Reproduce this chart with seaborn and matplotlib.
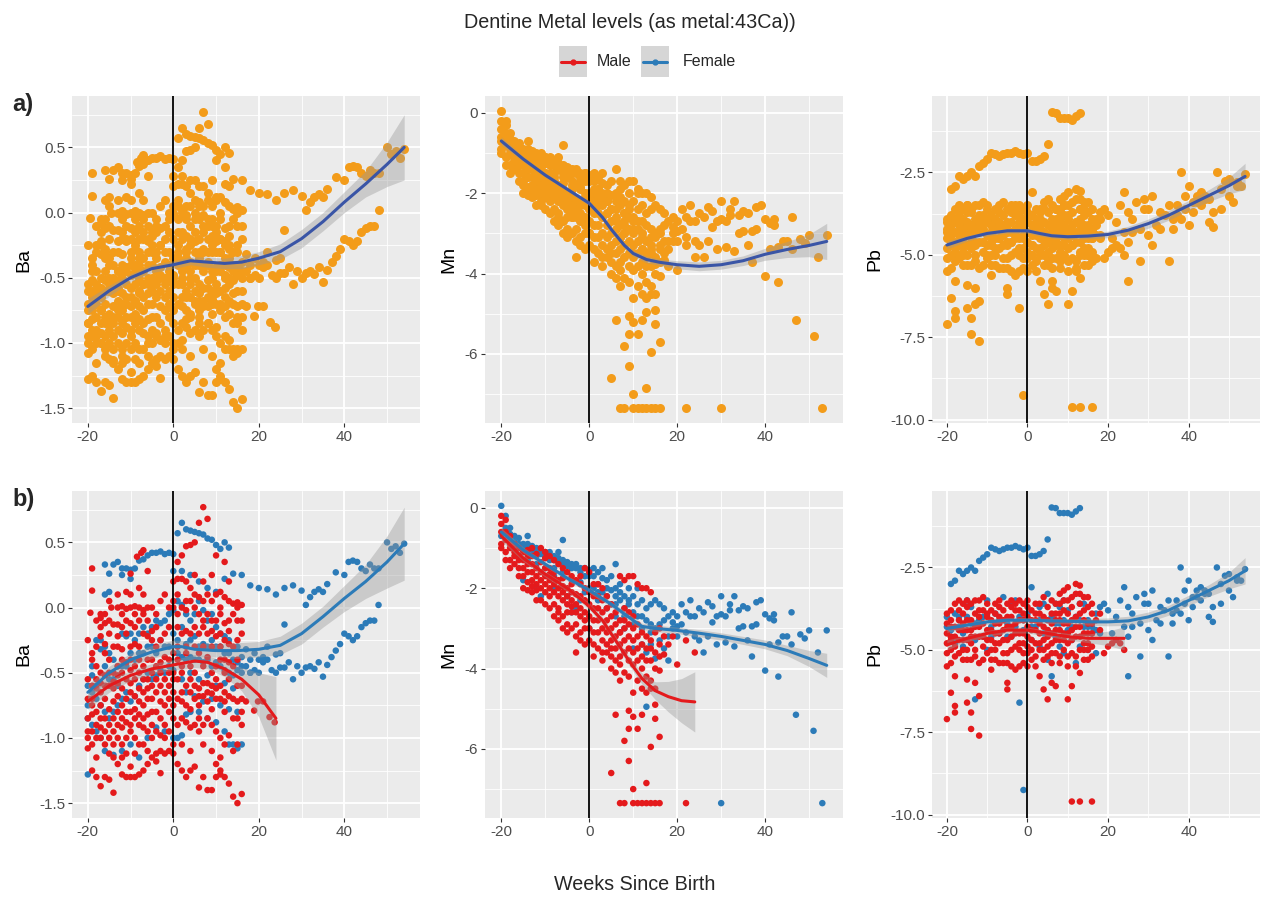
import numpy as np
import pandas as pd
import seaborn as sns
import matplotlib.pyplot as plt
from matplotlib.patches import Rectangle
from matplotlib.lines import Line2D

# ---- data (weeks since birth, log metal:43Ca) ----
ba_male = [
    (-19, 0.30), (-19, 0.13), (-8.5, 0.39), (-7.5, 0.42), (-7, 0.44), (-6, 0.28), (-10, 0.26), (-11, 0.12),
    (-19.4, -0.04), (-17, -0.05), (-14.5, 0.0), (-13, 0.0), (-12, 0.01), (-11, -0.01), (-10, 0.0), (-9, 0.01), (-8, 0.0), (-7, -0.02),
    (-17, -0.08), (-16, -0.12), (-15, -0.1), (-14, -0.13), (-13, -0.13), (-12, -0.15), (-11, -0.1), (-10, -0.12), (-9, -0.15),
    (-8, -0.1), (-7, -0.05), (-6, -0.1),
    (-14, -0.3), (-13, -0.3), (-12, -0.32), (-10, -0.3), (-9, -0.28), (-8, -0.3), (-7, -0.2), (-6, -0.22), (-5, -0.18), (-4, -0.15),
    (1, 0.35), (2, 0.4), (3, 0.47), (4, 0.48), (5, 0.5), (6, 0.65), (7, 0.77), (8, 0.68), (10, 0.4), (12, 0.35),
    (0, 0.2), (1, 0.22), (2, 0.22), (3, 0.2), (4, 0.15), (5, 0.1), (6, 0.08), (7, 0.05), (8, 0.1), (9, 0.05), (10, 0.1),
    (11, 0.12), (12, 0.08), (13, 0.05), (14, 0.03), (15, 0.04), (16, 0.02),
    (0, 0.0), (1, -0.05), (2, 0.0), (3, -0.02), (4, 0.05), (5, 0.0), (6, -0.05), (7, -0.1), (8, -0.05), (9, -0.1), (10, -0.1),
    (11, -0.05), (12, -0.12), (13, -0.1), (14, -0.05), (15, 0.0), (16, -0.2),
    (1, -0.15), (2, -0.2), (3, -0.18), (4, -0.2), (5, -0.15), (6, -0.2), (7, -0.15), (8, -0.2), (9, -0.18), (10, -0.22),
    (11, -0.2), (12, -0.25), (13, -0.18), (14, -0.3), (15, -0.25),
    (1, -0.55), (2, -0.5), (3, -0.6), (4, -0.55), (5, -0.6), (6, -0.62), (7, -0.58), (8, -0.65), (9, -0.6), (10, -0.62),
    (11, -0.6), (12, -0.65), (13, -0.55), (14, -0.7), (15, -0.72), (16, -0.7), (5, -0.7), (7, -0.68), (9, -0.66), (11, -0.7),
    (0, -0.75), (2, -0.72), (4, -0.78), (6, -0.75), (8, -0.72), (10, -0.55), (12, -0.5),
    (18.9, -0.79), (19.8, -0.72), (21, -0.72), (22.5, -0.84), (23.7, -0.88),
    (1, -0.9), (2, -0.85), (3, -0.88), (4, -0.92), (5, -0.9), (6, -0.95), (7, -0.9), (8, -0.85), (9, -0.9), (10, -0.95),
    (11, -1.0), (12, -1.05), (13, -0.98), (14, -1.1), (15, -1.05),
    (1, -1.2), (2, -1.25), (3, -1.3), (4, -1.25), (5, -1.22), (7, -1.3), (8, -1.4), (9, -1.4), (10, -1.3), (11, -1.28),
    (12, -1.3), (13, -1.35), (14, -1.45), (15, -1.5), (16, -1.43), (6, -1.38), (10, -1.2), (11, -1.25),
    (-20, -0.85), (-20, -1.08), (-19, -0.95), (-19, -0.82), (-18, -0.9), (-18, -1.0), (-17, -0.92), (-17, -0.85),
    (-16, -0.95), (-16, -1.05), (-15, -0.9), (-15, -1.0), (-14, -0.95), (-14, -0.85), (-13, -1.0), (-13, -0.9),
    (-12, -0.92), (-12, -1.05), (-11, -0.88), (-11, -1.0), (-10, -0.9), (-10, -0.95), (-9, -0.85), (-9, -1.0),
    (-8, -0.9), (-8, -1.05), (-7, -0.92), (-7, -0.85), (-6, -0.95), (-6, -1.1), (-5, -0.9), (-5, -1.0), (-4, -0.95),
    (-4, -1.12), (-3, -1.1), (-3, -0.98), (-2, -1.12), (-2, -0.9), (-1, -1.1), (-1, -0.95), (0, -1.05), (0, -1.12),
    (-19, -1.25), (-18, -1.3), (-17, -1.37), (-16, -1.3), (-15, -1.32), (-14, -1.42), (-13, -1.2), (-12, -1.28),
    (-11, -1.3), (-10, -1.3), (-9, -1.3), (-8, -1.28), (-7, -1.25), (-6, -1.2), (-5, -1.15), (-4, -1.18), (-3, -1.27),
    (-14, -1.15), (-12, -1.15), (-10, -1.22),
    (-20, -0.7), (-19, -0.6), (-18, -0.55), (-17, -0.65), (-16, -0.7), (-15, -0.6), (-14, -0.72), (-13, -0.68),
    (-12, -0.75), (-11, -0.7), (-10, -0.65), (-9, -0.68), (-8, -0.72), (-7, -0.65), (-6, -0.62), (-5, -0.7),
    (-4, -0.65), (-3, -0.6), (-2, -0.55), (-1, -0.6), (0, -0.65),
    (-19, -0.4), (-18, -0.45), (-17, -0.5), (-16, -0.35), (-15, -0.4), (-14, -0.5), (-13, -0.45), (-12, -0.5),
    (-11, -0.42), (-10, -0.48), (-9, -0.45), (-8, -0.5), (-7, -0.45), (-6, -0.4), (-5, -0.5), (-4, -0.45),
    (-3, -0.42), (-2, -0.38), (-1, -0.4), (0, -0.35),
    (-20, -0.25), (-19, -0.35), (-18, -0.3), (-17, -0.22), (-16, -0.28),
    (-20, -0.95), (-20, -0.55), (-19, -1.05), (-19, -0.75), (-18, -0.8), (-18, -1.15), (-17, -1.0), (-17, -0.75),
    (-16, -0.85), (-16, -0.6), (-15, -1.12), (-15, -0.78), (-14, -0.62), (-14, -1.05), (-13, -0.8), (-13, -0.58),
    (-12, -0.85), (-12, -0.62), (-11, -0.8), (-11, -1.12), (-10, -0.8), (-10, -0.58), (-9, -0.78), (-9, -1.12),
    (-8, -0.82), (-8, -0.62), (-7, -1.05), (-7, -0.75), (-6, -0.82), (-6, -0.55), (-5, -0.8), (-5, -0.6),
    (-4, -0.8), (-4, -0.55), (-3, -0.85), (-3, -0.72), (-2, -0.75), (-2, -1.0), (-1, -0.8), (-1, -0.5),
    (0, -0.85), (0, -0.5),
    (-16, -0.05), (-15, -0.2), (-13, -0.22), (-11, -0.2), (-9, -0.05), (-7, 0.1), (-5, 0.0), (-4, -0.05),
    (-3, -0.25), (-2, -0.2), (-1, -0.15), (0, 0.05),
    (1, -0.4), (2, -0.45), (3, -0.35), (4, -0.45), (5, -0.5), (6, -0.35), (7, -0.45), (8, -0.38), (9, -0.5),
    (10, -0.45), (11, -0.4), (12, -0.4), (13, -0.42), (14, -0.45), (15, -0.6), (16, -0.6),
    (1, -0.7), (3, -0.75), (6, -0.85), (9, -0.78), (12, -0.8), (14, -0.85), (16, -0.9), (2, -1.05), (4, -1.1),
    (7, -1.05), (9, -1.1), (11, -1.15),
    (-20, -1.0), (-19, -0.7), (-18, -0.62), (-17, -0.58), (-16, -0.52), (-15, -0.5), (-14, -0.57), (-13, -0.52),
    (-12, -0.4), (-11, -0.55), (-10, -0.4), (-9, -0.55), (-8, -0.4), (-7, -0.55), (-6, -0.7), (-5, -0.4),
    (-4, -0.3), (-3, -0.5), (-2, -0.65), (-1, -0.7), (0, -0.55),
    (-18, -0.1), (-17, -0.15), (-15, 0.05), (-13, 0.1), (-12, -0.05), (-10, 0.1), (-8, 0.15), (-6, 0.0),
    (-5, -0.25), (-3, 0.05), (-2, 0.1), (-1, 0.0),
    (1, 0.1), (3, 0.05), (5, 0.25), (7, 0.2), (9, 0.25), (11, 0.0), (13, 0.2), (15, -0.1), (16, -0.1),
    (1, -0.3), (3, -0.3), (5, -0.3), (7, -0.3), (9, -0.3), (11, -0.3), (13, -0.28), (15, -0.4),
    (2, -0.65), (4, -0.65), (6, -0.68), (8, -0.58), (10, -0.7), (12, -0.72), (13, -0.68), (15, -0.85),
    (16, -0.8), (17, -0.72),
]
ba_female = [
    (1, 0.57), (2, 0.65), (3, 0.6), (4, 0.59), (5, 0.58), (6, 0.57), (7, 0.56), (8, 0.53), (9, 0.52), (10, 0.48),
    (11, 0.45), (12, 0.5), (13, 0.46),
    (-16, 0.33), (-15, 0.26), (-14, 0.33), (-13, 0.35), (-12, 0.3), (-11, 0.3), (-10, 0.29), (-9, 0.3), (-8, 0.36),
    (-7, 0.37), (-6, 0.4), (-5, 0.42), (-4, 0.42), (-3, 0.43), (-2, 0.41), (-1, 0.42), (0, 0.41),
    (0, 0.28), (2, 0.28), (4, 0.25), (6, 0.2), (8, 0.15), (10, 0.12), (12, 0.22), (14, 0.26), (16, 0.25), (18, 0.17),
    (20, 0.15), (22, 0.14), (24, 0.1), (26, 0.15), (28, 0.17), (30, 0.13), (31, 0.02), (32, 0.08), (33, 0.12),
    (34, 0.14), (35, 0.12), (36, 0.18), (38, 0.27), (40, 0.25), (41, 0.35), (42, 0.36), (43, 0.35), (44, 0.3),
    (45, 0.28), (46, 0.33), (47, 0.3), (48, 0.3), (50, 0.5), (51, 0.45), (52, 0.47), (53, 0.42), (54, 0.49),
    (15, -0.42), (16, -0.45), (18, -0.5), (20, -0.4), (21, -0.42), (22, -0.4), (23, -0.48), (24, -0.5), (25, -0.46),
    (26, -0.46), (27, -0.42), (28, -0.55), (29, -0.45), (30, -0.5), (31, -0.46), (32, -0.45), (33, -0.47),
    (34, -0.42), (35, -0.53), (36, -0.44), (37, -0.38), (38, -0.33), (39, -0.28), (40, -0.2), (41, -0.22),
    (42, -0.25), (43, -0.22), (44, -0.15), (45, -0.12), (46, -0.1), (47, -0.1), (48, 0.02), (26, -0.13),
    (-20, -1.28), (-20, -0.6), (-19, -0.45), (-19, -0.65), (-18, -0.25), (-18, -0.7), (-17, -0.25), (-17, -0.75),
    (-16, -0.3), (-16, -0.8), (-15, -0.35), (-15, -0.85), (-14, -0.4), (-14, -0.8), (-13, -0.45), (-13, -0.75),
    (-12, -0.2), (-12, -0.7), (-11, -0.22), (-11, -0.65), (-10, -0.2), (-10, -0.72), (-9, -0.25), (-9, -0.68),
    (-8, -0.2), (-8, -0.6), (-7, -0.15), (-7, -0.55), (-6, -0.2), (-6, -0.5), (-5, -0.15), (-5, -0.55),
    (-4, -0.1), (-4, -0.52), (-3, -0.12), (-3, -0.48), (-2, -0.1), (-2, -0.5), (-1, -0.05), (-1, -0.45),
    (0, -0.02), (0, -0.48),
    (-14, -1.13), (-12, -1.1), (-10, -1.05), (-8, -1.15), (-6, -1.0), (-4, -0.92), (-2, -0.95), (0, -1.0),
    (1, -1.0), (2, -0.98), (3, -0.82), (4, -0.8), (6, -0.8), (8, -0.85), (10, -0.88), (12, -0.95), (13, -1.05),
    (14, -1.05), (15, -1.08), (16, -1.05),
    (1, -0.35), (2, -0.38), (3, -0.4), (4, -0.38), (5, -0.4), (6, -0.4), (7, -0.42), (8, -0.4), (9, -0.45),
    (10, -0.42), (11, -0.45), (12, -0.48), (13, -0.5), (14, -0.52), (15, -0.48), (16, -0.5), (17, -0.45),
    (18, -0.5), (19, -0.48), (20, -0.5),
    (2, -0.55), (4, -0.5), (6, -0.55), (8, -0.52), (10, -0.6), (12, -0.58), (14, -0.62),
    (1, 0.05), (2, 0.02), (3, -0.05), (4, -0.1), (5, -0.05), (6, 0.05), (7, -0.02), (8, -0.1), (9, -0.05),
    (10, -0.15), (11, -0.2), (12, -0.22), (13, -0.25),
    (-16, 0.1), (-15, 0.12), (-17, -0.32), (-19, -0.52), (-10, 0.22), (-12, 0.25),
    (22, -0.3), (24, -0.36), (25, -0.35),
    (-20, -0.85), (-19, -0.9), (-18, -0.95), (-17, -1.0), (-16, -1.1), (-15, -0.55), (-13, -0.6), (-11, -0.45),
    (-9, -0.4), (-7, -0.35), (-5, -0.3), (-3, -0.25), (-1, -0.3), (1, -0.25), (3, -0.28), (5, -0.22), (7, -0.28),
    (9, -0.25), (11, -0.3), (13, -0.35), (15, -0.3), (17, -0.32), (19, -0.35), (21, -0.38), (3, -0.65),
    (5, -0.68), (7, -0.72), (9, -0.7), (11, -0.75), (13, -0.78), (15, -0.8),
    (-20, -0.75), (-18, -0.6), (-16, -0.45), (-14, -0.55), (-12, -0.45), (-10, -0.35), (-8, -0.35), (-6, -0.3),
    (-4, -0.35), (-2, -0.3), (0, -0.2), (2, -0.15), (4, -0.25), (6, -0.3), (8, -0.3), (10, -0.3), (12, -0.35),
    (14, -0.4), (16, -0.38), (18, -0.4),
]

mn_male = [
    (-20, -0.2), (-20, -0.6), (-20, -0.9), (-20, -1.0), (-19, -0.3), (-19, -0.8), (-19, -1.1), (-18, -1.0),
    (-18, -1.3), (-17, -1.1), (-17, -1.4), (-16, -1.2), (-16, -1.5), (-15, -1.3), (-15, -1.7), (-14, -1.2),
    (-14, -1.6), (-13, -1.4), (-13, -1.8), (-12, -1.5), (-12, -1.9), (-12, -2.05), (-11, -1.6), (-11, -2.0),
    (-11, -1.0), (-10, -1.7), (-10, -2.1), (-10, -1.1), (-9, -1.8), (-9, -2.2), (-9, -1.2), (-8, -1.9),
    (-8, -2.4), (-8, -1.3), (-7, -2.0), (-7, -2.5), (-7, -1.4), (-6, -2.1), (-6, -2.7), (-6, -1.5), (-5, -2.2),
    (-5, -2.9), (-5, -1.6), (-4, -2.3), (-4, -3.0), (-4, -1.7), (-3, -2.4), (-3, -3.2), (-3, -1.8), (-2, -2.5),
    (-2, -3.3), (-2, -1.9), (-1, -2.6), (-1, -3.4), (-1, -2.0), (0, -2.7), (0, -3.0), (0, -2.1), (0, -1.6),
    (-18, -0.9), (-16, -1.0), (-14, -1.05), (-13, -1.0), (-12, -1.15), (-10, -1.25), (-9, -1.5), (-8, -1.6),
    (-6, -1.75), (-4, -1.9), (-2, -1.7), (-1, -1.5),
    (-15, -2.0), (-14, -2.05), (-13, -2.1), (-12, -2.3), (-10, -2.4), (-8, -2.7), (-7, -2.8), (-6, -3.0),
    (-5, -3.1), (-4, -2.6), (-3, -3.6), (-2, -3.1),
    (1, -2.2), (1, -2.8), (1, -3.4), (1, -3.7), (2, -1.9), (2, -2.5), (2, -3.1), (2, -3.5), (3, -2.0), (3, -2.6),
    (3, -3.0), (3, -3.3), (4, -2.2), (4, -2.8), (4, -3.4), (4, -3.6), (5, -2.4), (5, -3.0), (5, -3.7), (5, -4.0),
    (6, -2.6), (6, -3.2), (6, -3.8), (6, -4.1), (6, -5.15), (7, -1.7), (7, -2.8), (7, -3.4), (7, -3.9), (7, -4.3),
    (8, -1.8), (8, -2.5), (8, -3.0), (8, -3.6), (8, -4.1), (8, -5.8), (9, -1.7), (9, -2.6), (9, -3.2), (9, -3.8),
    (9, -4.2), (9, -5.05), (9, -5.5), (9, -6.3), (10, -1.7), (10, -2.7), (10, -3.3), (10, -3.9), (10, -4.6),
    (10, -5.2), (10, -7.0), (11, -1.9), (11, -2.9), (11, -3.5), (11, -4.3), (11, -5.5), (12, -2.0), (12, -3.1),
    (12, -3.7), (12, -4.5), (12, -5.15), (13, -2.0), (13, -3.2), (13, -3.8), (13, -4.6), (13, -6.85), (14, -2.1),
    (14, -3.3), (14, -3.5), (14, -4.3), (14, -5.95), (15, -3.1), (15, -3.6), (15, -4.5), (15, -4.9), (15, -5.25),
    (16, -3.0), (16, -3.7), (16, -4.05), (16, -5.7), (17, -3.2), (17, -3.65), (18, -3.4), (19, -3.2), (20, -3.9),
    (22, -3.3), (24, -3.6), (5, -6.6),
    (7, -7.35), (8, -7.35), (10, -7.35), (11, -7.35), (12, -7.35), (13, -7.35), (14, -7.35), (15, -7.35),
    (16, -7.35), (22, -7.35),
    (-19, -0.6), (-18, -0.7), (-17, -0.9), (-16, -1.3), (-15, -1.5), (-15, -1.1), (-14, -1.4), (-13, -1.6),
    (-13, -1.2), (-12, -1.7), (-11, -1.8), (-11, -1.35), (-10, -1.9), (-10, -1.5), (-9, -2.0), (-9, -1.65),
    (-8, -2.1), (-8, -1.75), (-7, -2.2), (-7, -1.8), (-6, -2.3), (-6, -1.95), (-5, -2.4), (-5, -2.0), (-4, -2.45),
    (-4, -2.1), (-3, -2.6), (-3, -2.15), (-2, -2.7), (-2, -2.2), (-1, -2.8), (-1, -2.3), (0, -2.4), (0, -3.3),
    (1, -2.5), (1, -3.1), (2, -2.2), (2, -2.8), (3, -2.3), (3, -3.6), (4, -2.5), (4, -3.1), (5, -2.7), (5, -3.3),
    (6, -2.9), (6, -3.5), (7, -3.1), (7, -3.7), (8, -2.8), (8, -3.3), (9, -2.9), (9, -3.5), (10, -3.0), (10, -3.6),
    (11, -3.2), (11, -3.8), (12, -3.4), (12, -4.0), (13, -3.5), (13, -4.2), (14, -3.8), (14, -4.5), (15, -4.0),
    (16, -3.4),
    (-20, -0.4), (-19, -1.3), (-18, -1.5), (-17, -1.2), (-16, -1.7), (-14, -1.85), (-13, -1.95), (-11, -2.3),
    (-9, -2.5), (-7, -2.6), (-5, -2.6), (-3, -2.9), (-1, -3.0), (1, -1.9), (3, -3.8), (5, -3.5), (7, -3.1),
]
mn_female = [
    (-20, 0.05), (-20, -0.7), (-19, -0.2), (-19, -0.5), (-18, -0.5), (-18, -0.8), (-17, -0.7), (-17, -0.95),
    (-16, -0.9), (-16, -1.0), (-15, -0.9), (-15, -1.1), (-14, -0.7), (-14, -1.0), (-13, -1.1), (-13, -1.05),
    (-12, -1.1), (-12, -1.2), (-11, -1.15), (-11, -2.2), (-10, -1.1), (-10, -1.25), (-9, -1.2), (-9, -1.3),
    (-8, -1.3), (-8, -2.0), (-7, -1.1), (-7, -1.35), (-6, -0.8), (-6, -1.4), (-5, -1.45), (-5, -2.2), (-4, -1.4),
    (-4, -2.6), (-3, -1.5), (-3, -2.5), (-2, -1.6), (-2, -2.3), (-1, -1.5), (-1, -2.1), (0, -1.7), (0, -3.0),
    (-15, -1.8), (-12, -2.0), (-8, -1.5),
    (1, -1.5), (1, -2.0), (2, -1.6), (2, -2.3), (3, -1.5), (3, -2.1), (4, -1.8), (4, -2.5), (5, -1.7), (5, -2.4),
    (6, -1.4), (6, -2.0), (6, -2.7), (7, -1.9), (7, -2.3), (8, -2.2), (8, -3.0), (9, -2.0), (9, -2.4), (10, -2.2),
    (10, -3.5), (11, -2.0), (11, -2.7), (12, -2.3), (12, -3.4), (13, -2.5), (13, -3.6), (13, -4.95), (14, -2.4),
    (14, -3.4), (15, -2.3), (15, -3.75), (16, -2.4), (16, -2.9), (17, -2.5), (17, -2.8), (18, -2.7), (18, -3.8),
    (19, -2.6), (19, -3.0), (20, -2.7), (20, -3.2), (21, -2.9), (21, -2.4), (22, -2.6), (22, -3.1), (23, -2.3),
    (23, -2.7), (24, -2.7), (24, -3.2), (25, -2.5), (25, -3.3), (26, -2.6), (26, -3.6), (27, -2.35), (27, -3.2),
    (28, -2.45), (28, -2.85), (29, -2.7), (29, -3.4), (30, -2.2), (30, -2.65), (31, -2.7), (31, -3.35),
    (32, -2.4), (32, -2.55), (33, -2.2), (33, -3.45), (34, -2.55), (34, -3.0), (35, -2.45), (35, -2.95),
    (36, -2.5), (36, -3.3), (37, -2.95), (37, -3.7), (38, -2.35), (38, -2.9), (39, -2.3), (40, -2.65),
    (40, -4.05), (41, -2.75), (41, -3.4), (42, -2.65), (42, -2.8), (43, -3.35), (43, -4.2), (44, -3.2),
    (45, -3.2), (46, -3.4), (46, -2.6), (47, -5.15), (48, -3.15), (49, -3.25), (50, -3.05), (52, -3.6),
    (51, -5.55), (54, -3.05), (30, -7.35), (53, -7.35),
    (-19, -0.6), (-18, -0.65), (-17, -0.85), (-16, -0.75), (-15, -1.0), (-14, -0.9), (-13, -0.95), (-12, -1.0),
    (-11, -1.05), (-10, -1.2), (-9, -1.1), (-8, -1.2), (-7, -1.25), (-6, -1.3), (-5, -1.35), (-4, -1.5),
    (-3, -1.4), (-2, -1.5), (-1, -1.7), (0, -1.55), (1, -1.7), (2, -1.9), (3, -1.75), (4, -2.0), (5, -2.05),
    (6, -2.2), (7, -2.1), (8, -2.5), (9, -2.3), (10, -2.6), (11, -2.4), (12, -2.7), (13, -2.8), (14, -2.9),
    (15, -3.0), (16, -3.3), (17, -3.5), (18, -3.2), (19, -2.85), (20, -2.95),
    (-16, -1.2), (-14, -1.3), (-12, -1.4), (-10, -1.5), (-8, -1.7), (-6, -1.6), (-4, -1.8), (-2, -1.85),
    (0, -2.0), (2, -2.1), (4, -2.2), (6, -2.4), (8, -2.7), (10, -2.9), (12, -3.0), (14, -3.1),
]

pb_male = [
    (-20, -3.9), (-20, -4.5), (-20, -4.8), (-19, -4.1), (-19, -4.6), (-19, -5.0), (-18, -3.6), (-18, -4.3),
    (-18, -4.9), (-17, -3.8), (-17, -4.4), (-17, -5.1), (-16, -3.6), (-16, -4.2), (-16, -4.7), (-16, -5.3),
    (-15, -3.7), (-15, -4.4), (-15, -5.0), (-14, -3.6), (-14, -4.1), (-14, -4.8), (-14, -5.3), (-13, -3.5),
    (-13, -4.3), (-13, -5.2), (-12, -3.5), (-12, -4.0), (-12, -4.6), (-12, -5.4), (-11, -3.4), (-11, -4.2),
    (-11, -4.9), (-10, -3.6), (-10, -4.4), (-10, -5.1), (-9, -3.8), (-9, -4.1), (-9, -4.7), (-9, -5.3),
    (-8, -3.9), (-8, -4.5), (-8, -5.0), (-7, -3.7), (-7, -4.2), (-7, -4.8), (-7, -5.4), (-6, -3.8), (-6, -4.4),
    (-6, -5.1), (-5, -3.6), (-5, -4.0), (-5, -4.7), (-5, -5.4), (-4, -3.7), (-4, -4.3), (-4, -5.0), (-4, -5.5),
    (-3, -3.8), (-3, -4.2), (-3, -4.9), (-3, -5.6), (-2, -3.5), (-2, -4.5), (-2, -5.0), (-2, -5.5), (-1, -3.6),
    (-1, -4.1), (-1, -4.8), (-1, -5.4), (0, -3.7), (0, -4.3), (0, -4.6), (0, -5.1), (0, -5.5), (1, -3.8),
    (1, -4.4), (1, -5.0), (2, -3.6), (2, -4.1), (2, -4.8), (2, -5.2), (3, -3.9), (3, -4.5), (3, -5.0), (4, -3.4),
    (4, -4.0), (4, -4.7), (4, -5.3), (5, -3.7), (5, -4.4), (5, -4.9), (6, -3.5), (6, -4.2), (6, -4.8), (6, -5.4),
    (7, -3.9), (7, -4.4), (7, -5.1), (8, -3.6), (8, -4.1), (8, -4.7), (8, -5.2), (9, -3.8), (9, -4.5), (9, -5.0),
    (10, -3.5), (10, -4.2), (10, -4.8), (10, -5.5), (11, -3.7), (11, -4.4), (11, -5.1), (12, -3.3), (12, -4.0),
    (12, -4.6), (12, -5.2), (13, -3.6), (13, -4.3), (13, -5.0), (14, -3.8), (14, -4.5), (14, -5.3), (15, -3.7),
    (15, -4.2), (15, -4.8), (16, -3.9), (16, -4.5), (16, -5.2),
    (-20, -7.1), (-19, -6.3), (-18, -6.7), (-18, -6.9), (-18, -5.8), (-19, -5.4), (-20, -5.5), (-15, -5.9),
    (-15, -6.6), (-14, -6.9), (-14, -7.4), (-13, -6.0), (-12, -6.4), (-12, -7.6), (-9, -5.6), (-5, -6.0),
    (-5, -6.2), (3, -5.8), (4, -6.2), (5, -6.5), (6, -6.0), (7, -6.1), (10, -6.5), (11, -6.1), (13, -5.7),
    (11, -9.6), (13, -9.6), (16, -9.6), (10, -3.1), (12, -3.0), (13, -3.05), (8, -3.3), (9, -3.2), (14, -3.4),
    (15, -3.4), (17, -4.1), (18, -4.4), (19, -5.1), (20, -4.9), (21, -4.8), (22, -4.7), (23, -4.8), (24, -5.0),
    (18, -3.9),
    (-20, -4.2), (-19, -3.8), (-19, -4.3), (-18, -4.6), (-17, -4.1), (-17, -4.7), (-16, -3.9), (-16, -5.0),
    (-15, -4.1), (-15, -4.7), (-14, -4.4), (-13, -3.9), (-13, -4.6), (-12, -4.3), (-11, -3.8), (-11, -4.6),
    (-10, -4.0), (-10, -4.7), (-9, -4.4), (-8, -4.2), (-8, -4.8), (-7, -4.0), (-7, -4.5), (-6, -4.1), (-6, -4.7),
    (-5, -4.3), (-4, -4.0), (-4, -4.6), (-3, -4.5), (-2, -4.1), (-2, -4.8), (-1, -3.9), (-1, -4.5), (0, -4.0),
    (0, -4.9), (1, -4.1), (1, -4.7), (2, -4.4), (2, -3.9), (3, -4.2), (3, -4.8), (4, -4.3), (5, -4.1), (5, -4.6),
    (6, -3.9), (6, -4.5), (7, -4.1), (7, -4.7), (8, -4.4), (8, -3.9), (9, -4.2), (9, -4.7), (10, -3.9),
    (10, -4.5), (11, -4.1), (11, -4.7), (12, -4.3), (13, -3.9), (13, -4.6), (14, -4.1), (14, -4.8), (15, -4.5),
    (15, -5.0), (16, -4.2),
    (-20, -5.1), (-19, -4.7), (-18, -5.2), (-17, -3.5), (-16, -4.4), (-15, -3.5), (-15, -5.3), (-14, -4.6),
    (-13, -5.0), (-12, -3.8), (-11, -5.3), (-10, -3.9), (-9, -5.0), (-8, -3.6), (-8, -5.3), (-7, -3.5),
    (-6, -5.4), (-5, -5.1), (-4, -3.5), (-3, -3.6), (-2, -3.8), (-1, -5.1), (0, -3.5), (1, -5.3), (2, -5.5),
    (3, -3.6), (4, -5.0), (5, -5.2), (6, -5.1), (7, -3.6), (8, -5.4), (9, -3.5), (10, -5.2), (11, -3.4),
    (12, -5.5), (13, -3.3), (14, -5.0), (15, -5.3), (16, -3.6), (16, -4.9),
]
pb_female = [
    (-19, -3.0), (-18, -2.9), (-17, -2.6), (-16, -2.7), (-15, -2.6), (-14, -2.5), (-13, -2.6), (-12, -2.3),
    (-11, -2.2), (-10, -2.1), (-9, -1.9), (-8, -1.95), (-7, -2.0), (-6, -1.95), (-5, -1.9), (-4, -1.9),
    (-3, -1.85), (-2, -1.9), (-1, -1.95), (0, -1.9), (1, -2.15), (2, -2.15), (3, -2.1), (4, -2.0), (5, -1.65),
    (6, -0.68), (7, -0.7), (8, -0.85), (9, -0.85), (10, -0.85), (11, -0.9), (12, -0.8), (13, -0.7),
    (15, -4.1), (16, -4.3), (17, -3.9), (18, -3.7), (19, -3.6), (20, -3.8), (21, -4.5), (22, -4.0), (23, -3.5),
    (24, -3.1), (25, -3.7), (26, -3.9), (27, -3.4), (28, -4.2), (29, -3.6), (30, -4.4), (31, -3.2), (32, -4.1),
    (33, -4.2), (34, -3.8), (35, -3.5), (36, -3.9), (37, -3.8), (38, -2.5), (39, -3.6), (40, -2.9), (41, -3.4),
    (42, -3.2), (43, -3.5), (44, -3.3), (45, -4.0), (46, -3.7), (47, -2.5), (48, -3.6), (49, -2.75), (50, -2.7),
    (51, -3.4), (52, -2.8), (53, -2.9), (54, -2.55),
    (25, -4.6), (24, -4.3), (26, -4.3), (28, -5.2), (31, -4.7), (35, -5.2), (25, -5.8), (29, -3.3), (30, -3.6),
    (33, -3.7), (37, -3.5), (41, -3.7), (42, -3.4), (44, -3.2), (46, -4.15), (38, -3.9), (40, -4.1), (43, -3.1),
    (45, -3.3), (50, -3.2), (52, -2.9), (36, -4.2), (39, -3.2), (48, -3.0),
    (-20, -4.3), (-19, -4.6), (-18, -3.9), (-18, -4.8), (-17, -4.0), (-16, -4.5), (-16, -4.9), (-15, -3.5),
    (-14, -4.2), (-13, -4.7), (-13, -6.5), (-12, -4.1), (-11, -4.6), (-10, -5.0), (-9, -4.3), (-8, -3.9),
    (-7, -4.5), (-6, -3.4), (-5, -4.2), (-4, -4.6), (-3, -3.5), (-2, -4.0), (-2, -6.6), (-1, -4.4), (-1, -9.25),
    (0, -3.9), (1, -3.1), (1, -4.7), (2, -4.3), (3, -3.7), (3, -4.9), (4, -4.5), (5, -3.3), (5, -5.3), (6, -4.0),
    (6, -5.8), (7, -3.6), (7, -4.6), (8, -4.2), (8, -4.9), (9, -3.5), (9, -5.1), (10, -4.4), (10, -3.8),
    (11, -4.7), (12, -4.0), (12, -5.4), (13, -3.6), (13, -4.9), (14, -4.3), (15, -5.0), (16, -4.5), (17, -5.1),
    (18, -4.5),
    (-20, -4.0), (-19, -4.4), (-17, -4.3), (-15, -4.0), (-13, -4.2), (-11, -4.0), (-9, -4.6), (-7, -4.1),
    (-5, -4.6), (-3, -4.3), (-1, -4.1), (1, -4.3), (3, -4.1), (5, -4.4), (7, -4.2), (9, -4.1), (11, -4.3),
    (13, -4.1), (15, -4.3), (17, -4.4), (-14, -3.7), (-10, -3.5), (-4, -3.6), (4, -3.6), (8, -3.7), (14, -3.6),
]

# smoothed fits: week, fit, half width of the band
fit_all = {
    "Ba": ([-20, -15, -10, -5, 0, 4, 8, 12, 16, 20, 25, 30, 35, 40, 45, 50, 54],
           [-0.72, -0.6, -0.5, -0.43, -0.4, -0.37, -0.38, -0.39, -0.38, -0.35, -0.3, -0.2, -0.07, 0.08, 0.22, 0.37, 0.5],
           [0.06, 0.04, 0.03, 0.03, 0.03, 0.03, 0.04, 0.04, 0.05, 0.05, 0.06, 0.07, 0.07, 0.08, 0.1, 0.17, 0.25]),
    "Mn": ([-20, -15, -10, -5, 0, 3, 5, 8, 10, 13, 16, 20, 25, 30, 35, 40, 45, 50, 54],
           [-0.7, -1.15, -1.55, -1.9, -2.25, -2.6, -2.9, -3.3, -3.5, -3.65, -3.72, -3.78, -3.82, -3.78, -3.68, -3.52, -3.4, -3.3, -3.2],
           [0.1, 0.06, 0.05, 0.05, 0.06, 0.06, 0.07, 0.07, 0.07, 0.08, 0.08, 0.1, 0.11, 0.11, 0.12, 0.15, 0.2, 0.28, 0.45]),
    "Pb": ([-20, -15, -10, -5, 0, 3, 6, 10, 15, 20, 25, 30, 35, 40, 45, 50, 54],
           [-4.7, -4.5, -4.35, -4.27, -4.27, -4.35, -4.42, -4.45, -4.43, -4.38, -4.25, -4.05, -3.8, -3.5, -3.2, -2.9, -2.62],
           [0.12, 0.08, 0.07, 0.07, 0.07, 0.07, 0.07, 0.07, 0.08, 0.1, 0.12, 0.14, 0.15, 0.15, 0.18, 0.25, 0.4]),
}
fit_female = {
    "Ba": ([-20, -15, -10, -5, 0, 2, 5, 10, 15, 20, 25, 30, 35, 40, 45, 50, 54],
           [-0.65, -0.5, -0.4, -0.34, -0.3, -0.3, -0.32, -0.33, -0.33, -0.32, -0.29, -0.2, -0.07, 0.07, 0.2, 0.35, 0.49],
           [0.06, 0.05, 0.05, 0.05, 0.05, 0.05, 0.05, 0.05, 0.06, 0.06, 0.07, 0.08, 0.08, 0.1, 0.13, 0.2, 0.28]),
    "Mn": ([-20, -15, -10, -5, 0, 5, 10, 12, 15, 20, 25, 30, 35, 40, 45, 50, 54],
           [-0.6, -1.05, -1.4, -1.75, -2.05, -2.4, -2.8, -2.95, -3.0, -3.05, -3.12, -3.2, -3.3, -3.4, -3.55, -3.75, -3.92],
           [0.1, 0.07, 0.06, 0.06, 0.07, 0.07, 0.08, 0.08, 0.08, 0.08, 0.09, 0.09, 0.1, 0.11, 0.13, 0.2, 0.3]),
    "Pb": ([-20, -15, -10, -5, 0, 5, 10, 15, 20, 25, 30, 35, 40, 45, 50, 54],
           [-4.35, -4.25, -4.15, -4.1, -4.1, -4.12, -4.13, -4.15, -4.15, -4.12, -4.0, -3.8, -3.5, -3.2, -2.9, -2.6],
           [0.12, 0.09, 0.08, 0.08, 0.08, 0.08, 0.08, 0.1, 0.12, 0.14, 0.15, 0.15, 0.16, 0.18, 0.25, 0.4]),
}
fit_male = {
    "Ba": ([-20, -15, -10, -5, 0, 5, 8, 12, 16, 20, 24],
           [-0.72, -0.6, -0.52, -0.47, -0.44, -0.41, -0.42, -0.47, -0.55, -0.67, -0.85],
           [0.06, 0.05, 0.04, 0.04, 0.04, 0.05, 0.05, 0.06, 0.09, 0.17, 0.32]),
    "Mn": ([-20, -15, -10, -5, 0, 3, 6, 9, 12, 15, 18, 21, 24],
           [-0.7, -1.25, -1.65, -2.0, -2.45, -2.8, -3.3, -3.8, -4.25, -4.55, -4.7, -4.8, -4.83],
           [0.12, 0.08, 0.07, 0.07, 0.08, 0.09, 0.1, 0.11, 0.14, 0.22, 0.38, 0.55, 0.75]),
    "Pb": ([-20, -15, -10, -5, 0, 5, 10, 15, 20, 24],
           [-4.85, -4.65, -4.5, -4.4, -4.4, -4.5, -4.6, -4.65, -4.65, -4.65],
           [0.15, 0.1, 0.09, 0.09, 0.09, 0.09, 0.1, 0.13, 0.22, 0.35]),
}

metals = ["Ba", "Mn", "Pb"]
points = {"Ba": (ba_male, ba_female), "Mn": (mn_male, mn_female), "Pb": (pb_male, pb_female)}
ylims = {"Ba": (-1.614, 0.894), "Mn": (-7.72, 0.42), "Pb": (-10.1, -0.18)}
yticks = {"Ba": [-1.5, -1.0, -0.5, 0.0, 0.5], "Mn": [-6, -4, -2, 0], "Pb": [-10.0, -7.5, -5.0, -2.5]}
ytick_labels = {"Ba": ["-1.5", "-1.0", "-0.5", "0.0", "0.5"], "Mn": ["-6", "-4", "-2", "0"],
                "Pb": ["-10.0", "-7.5", "-5.0", "-2.5"]}
xticks = [-20, 0, 20, 40]

ORANGE = "#F39C1A"
LINE_BLUE = "#3A55A6"
RED = "#E41A1C"
BLUE = "#2C7BB8"
palette = {"Male": RED, "Female": BLUE}

frames = {}
for m in metals:
    male, female = points[m]
    d_f = pd.DataFrame(female, columns=["week", "value"]).assign(sex="Female")
    d_m = pd.DataFrame(male, columns=["week", "value"]).assign(sex="Male")
    frames[m] = pd.concat([d_f, d_m], ignore_index=True)

sns.set_theme(style="darkgrid", rc={
    "axes.facecolor": "#EBEBEB", "grid.color": "white",
    "xtick.bottom": True, "ytick.left": True,
    "xtick.major.size": 3, "ytick.major.size": 3,
    "xtick.color": "#333333", "ytick.color": "#333333",
})
plt.rcParams["font.family"] = ["Liberation Sans", "DejaVu Sans"]

W, H = 1263, 899
fig = plt.figure(figsize=(W / 100, H / 100), dpi=100)

cols = [(72, 420), (485, 843), (932, 1260)]
rows = [(96, 423), (491, 818)]


def make_ax(col, row):
    x0, x1 = cols[col]
    y0, y1 = rows[row]
    return fig.add_axes([x0 / W, 1 - y1 / H, (x1 - x0) / W, (y1 - y0) / H])


def style_ax(ax, m):
    ax.set_xticks(xticks)
    ax.set_xticklabels([str(t) for t in xticks], fontsize=11, color="#4D4D4D")
    ax.set_yticks(yticks[m])
    ax.set_yticklabels(ytick_labels[m], fontsize=11, color="#4D4D4D")
    ax.set_xticks([-10, 10, 30, 50], minor=True)
    yt = yticks[m]
    step = yt[1] - yt[0]
    ax.set_yticks([t + step / 2 for t in [yt[0] - step] + yt], minor=True)
    ax.grid(which="major", color="white", lw=1.3)
    ax.grid(which="minor", color="white", lw=0.6)
    ax.tick_params(which="minor", length=0)
    ax.tick_params(which="major", length=3, width=0.8, color="#333333", pad=2)
    for s in ax.spines.values():
        s.set_visible(False)
    ax.set_xlabel("")
    ax.set_ylabel(m, fontsize=14, color="black", labelpad=5)
    ax.axvline(0, color="black", lw=1.3, zorder=2)
    # limits last: setting ticks outside the range would widen them
    ax.set_xlim(-23.7, 57.7)
    ax.set_ylim(*ylims[m])


def draw_fit(ax, fit, color):
    x, y, hw = (np.array(v, dtype=float) for v in fit)
    ax.fill_between(x, y - hw, y + hw, color="#999999", alpha=0.4, lw=0, zorder=3)
    sns.lineplot(x=x, y=y, ax=ax, color=color, lw=2.2, zorder=4, sort=False)


for i, m in enumerate(metals):
    # a) all children
    ax = make_ax(i, 0)
    sns.scatterplot(data=frames[m], x="week", y="value", color=ORANGE, s=42,
                    linewidth=0, ax=ax, zorder=1)
    draw_fit(ax, fit_all[m], LINE_BLUE)
    style_ax(ax, m)

    # b) by sex
    ax = make_ax(i, 1)
    sns.scatterplot(data=frames[m], x="week", y="value", hue="sex", palette=palette,
                    s=22, linewidth=0, ax=ax, legend=False, zorder=1)
    draw_fit(ax, fit_male[m], RED)
    draw_fit(ax, fit_female[m], BLUE)
    style_ax(ax, m)

# titles and labels
fig.text(630 / W, 1 - 22 / H, "Dentine Metal levels (as metal:43Ca))", ha="center", va="center", fontsize=14.2)
fig.text(635 / W, 1 - 885 / H, "Weeks Since Birth", ha="center", va="center", fontsize=14.2)
fig.text(12 / W, 1 - 105 / H, "a)", ha="left", va="center", fontsize=17, fontweight="bold")
fig.text(12 / W, 1 - 500 / H, "b)", ha="left", va="center", fontsize=17, fontweight="bold")

# legend
for (kx, label, color, tx) in [(559, "Male", RED, 597), (641, "Female", BLUE, 683)]:
    fig.add_artist(Rectangle((kx / W, 1 - 77 / H), 28 / W, 31 / H, transform=fig.transFigure,
                             facecolor="#D6D6D6", edgecolor="none"))
    fig.add_artist(Line2D([(kx + 2) / W, (kx + 26) / W], [1 - 61.5 / H, 1 - 61.5 / H],
                          transform=fig.transFigure, color=color, lw=2.2))
    fig.add_artist(Line2D([(kx + 14) / W], [1 - 61.5 / H], transform=fig.transFigure,
                          color=color, marker="o", markersize=3.5, lw=0))
    fig.text(tx / W, 1 - 61.5 / H, label, ha="left", va="center", fontsize=11.5)

fig.savefig("out.png", dpi=100)
